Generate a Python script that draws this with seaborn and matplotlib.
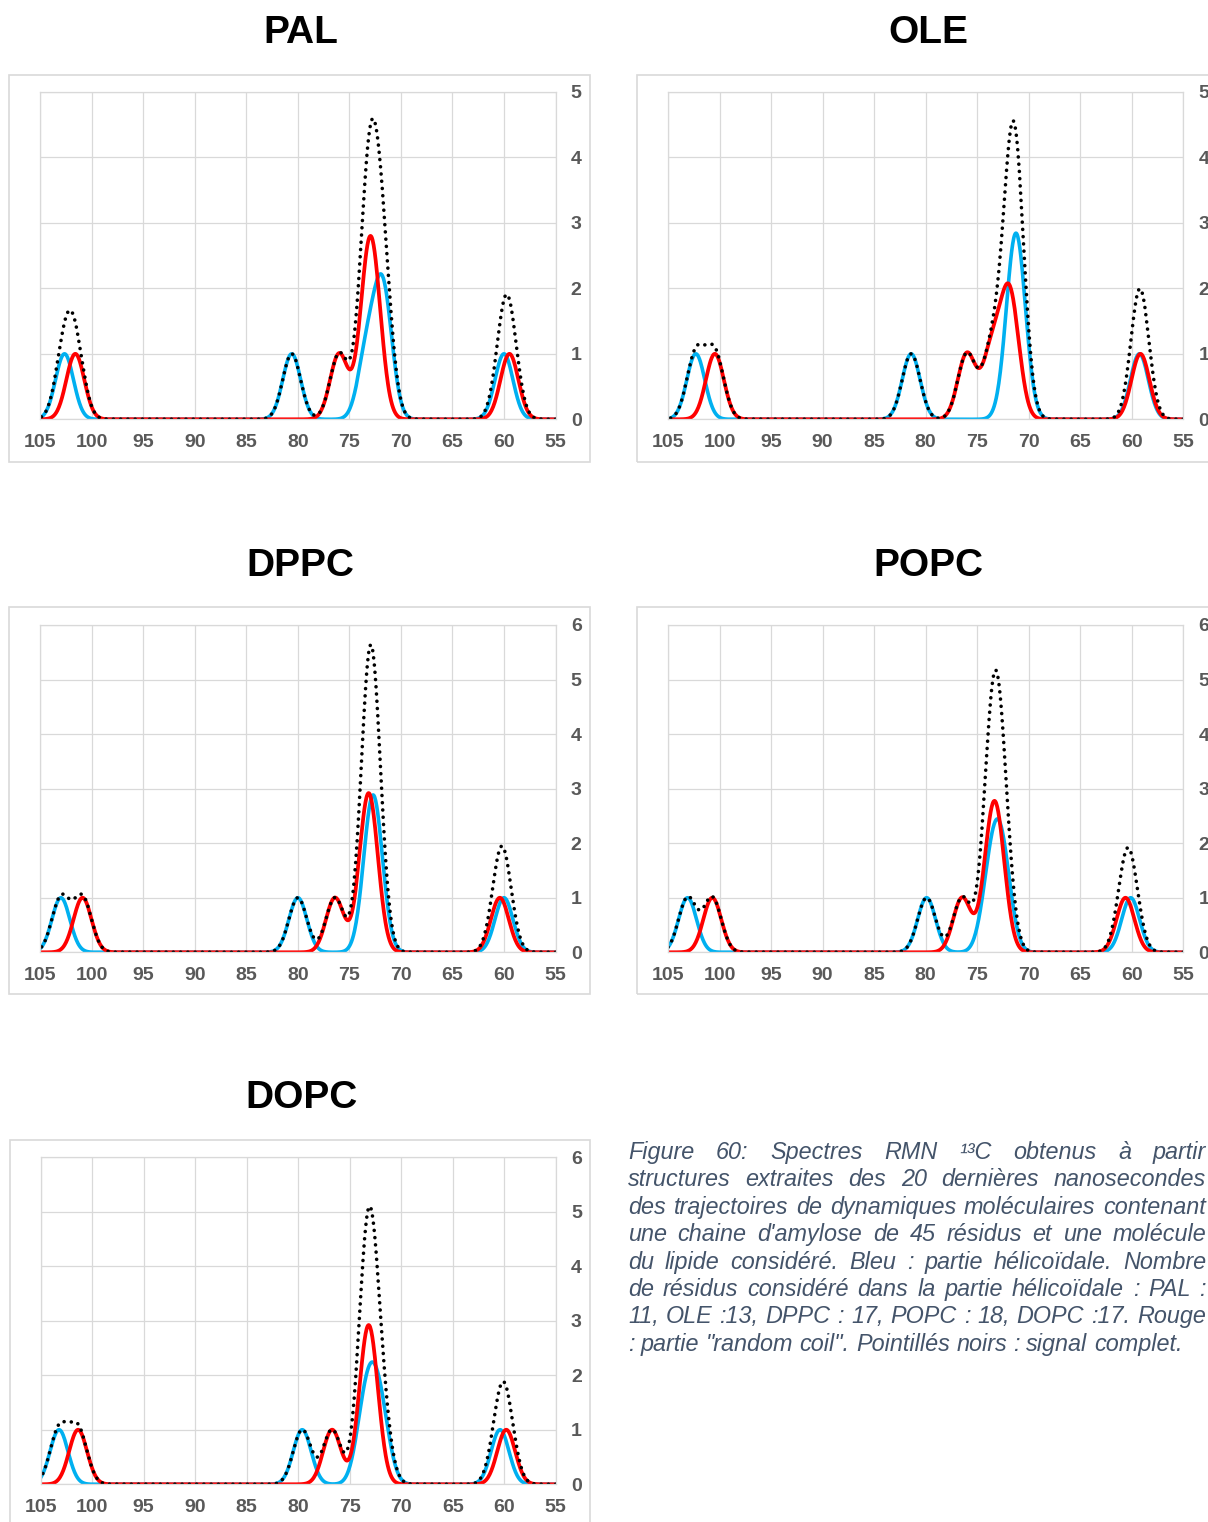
import numpy as np
import pandas as pd
import seaborn as sns
import matplotlib.pyplot as plt
from matplotlib.patches import Rectangle

# 13C chemical shifts (ppm): C1, C4, C2/C3/C5 group, C6
# blue = helical part, red = random coil part, each carbon has unit intensity
pal_helix = [102.65, 80.6, 73.3, 71.9, 71.6, 60.0]
pal_coil = [101.6, 76.0, 73.35, 72.95, 72.55, 59.47]
ole_helix = [102.3, 81.4, 71.6, 71.2, 70.9, 59.25]
ole_coil = [100.45, 76.0, 73.6, 72.1, 71.6, 59.15]
dppc_helix = [103.0, 80.0, 73.0, 72.7, 72.4, 60.0]
dppc_coil = [100.9, 76.4, 73.4, 73.1, 72.9, 60.4]
popc_helix = [103.1, 79.9, 73.8, 73.0, 72.4, 60.1]
popc_coil = [100.7, 76.45, 73.75, 73.3, 72.9, 60.6]
dopc_helix = [103.2, 79.6, 73.6, 72.8, 71.9, 60.4]
dopc_coil = [101.35, 76.7, 73.4, 73.15, 72.9, 59.8]

lipids = ["PAL", "OLE", "DPPC", "POPC", "DOPC"]
y_max = [5, 5, 6, 6, 6]
x_ticks = [105, 100, 95, 90, 85, 80, 75, 70, 65, 60, 55]

caption_lines = [
    "Figure 60: Spectres RMN \u00b9\u00b3C obtenus à partir",
    "structures extraites des 20 dernières nanosecondes",
    "des trajectoires de dynamiques moléculaires contenant",
    "une chaine d'amylose de 45 résidus et une molécule",
    "du lipide considéré. Bleu : partie hélicoïdale. Nombre",
    "de résidus considéré dans la partie hélicoïdale : PAL :",
    "11, OLE :13, DPPC : 17, POPC : 18, DOPC :17. Rouge",
    ": partie \"random coil\". Pointillés noirs : signal complet.",
]

sns.set_style("white")
plt.rcParams["font.family"] = ["Liberation Sans", "DejaVu Sans"]
plt.rcParams["font.weight"] = "bold"

W, H = 1208, 1522
fig = plt.figure(figsize=(W / 100, H / 100), dpi=100)

ppm = np.arange(105, 54.99, -0.05)
sigma = 0.87


def spectrum(shifts):
    out = np.zeros_like(ppm)
    for s in shifts:
        out += np.exp(-(ppm - s) ** 2 / (2 * sigma ** 2))
    return out


grid_col = "#D9D9D9"
# (name, helix, coil, ymax, plot left px, plot top px)
panels = [
    ("PAL", pal_helix, pal_coil, y_max[0], 40.3, 92),
    ("OLE", ole_helix, ole_coil, y_max[1], 668, 92),
    ("DPPC", dppc_helix, dppc_coil, y_max[2], 40.3, 625),
    ("POPC", popc_helix, popc_coil, y_max[3], 668, 625),
    ("DOPC", dopc_helix, dopc_coil, y_max[4], 40.5, 1157),
]

for name, helix, coil, top, left, ytop in panels:
    pw, ph = 515.2, 327.3
    ax = fig.add_axes([left / W, 1 - (ytop + ph) / H, pw / W, ph / H])

    blue = spectrum(helix)
    red = spectrum(coil)
    df = pd.DataFrame({"ppm": ppm, "helix": blue, "coil": red, "total": blue + red})

    sns.lineplot(data=df, x="ppm", y="helix", ax=ax, color="#00B0F0", lw=2.6)
    sns.lineplot(data=df, x="ppm", y="coil", ax=ax, color="#FF0000", lw=2.7)
    sns.lineplot(data=df, x="ppm", y="total", ax=ax, color="black", lw=2.6,
                 linestyle=(0, (0.01, 2.0)), dash_capstyle="round")

    ax.set_xlim(105, 55)
    ax.set_ylim(0, top)
    ax.set_xticks(x_ticks)
    ax.set_yticks(range(0, top + 1))
    ax.set_xlabel("")
    ax.set_ylabel("")
    ax.yaxis.tick_right()
    ax.tick_params(axis="both", length=0, labelsize=14, labelcolor="#595959")
    ax.tick_params(axis="x", pad=10.5)
    ax.tick_params(axis="y", pad=11)
    ax.grid(True, color=grid_col, lw=0.9)
    ax.set_axisbelow(True)
    for sp in ax.spines.values():
        sp.set_color(grid_col)
        sp.set_linewidth(0.9)

    # chart area border
    fig.patches.append(Rectangle(((left - 30.8) / W, 1 - (ytop + 369.5) / H),
                                 580.5 / W, 387 / H, transform=fig.transFigure,
                                 fill=False, ec=grid_col, lw=1.2))
    fig.text((left + 260.5) / W, 1 - (ytop - 59) / H, name, fontsize=28,
             fontweight="bold", ha="center", va="center", color="black")

# caption, justified like the original text block
fig.canvas.draw()
r = fig.canvas.get_renderer()
x0, x1 = 628, 1206
for i, line in enumerate(caption_lines):
    words = line.split(" ")
    y = 1 - (1159 + i * 27.4) / H
    arts = [fig.text(0, y, w, fontsize=16.8, style="italic", fontweight="normal",
                     color="#44546A", va="baseline", ha="left") for w in words]
    widths = [a.get_window_extent(r).width for a in arts]
    if i == len(caption_lines) - 1:
        gap = 6.4
    else:
        gap = (x1 - x0 - sum(widths)) / (len(words) - 1)
    x = x0
    for a, wd in zip(arts, widths):
        a.set_x(x / W)
        x += wd + gap

fig.savefig("out.png", dpi=100)
